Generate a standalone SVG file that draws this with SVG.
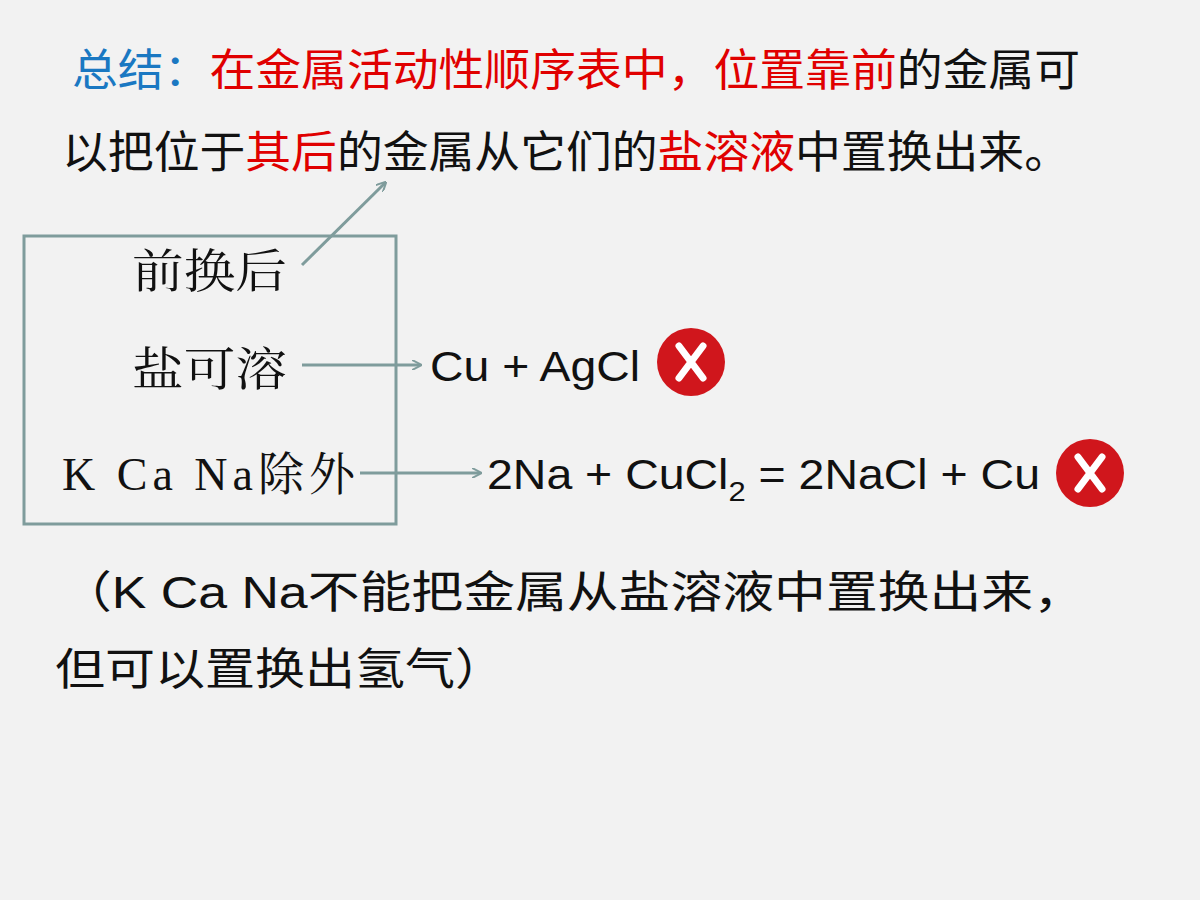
<svg xmlns="http://www.w3.org/2000/svg" width="1200" height="900" viewBox="0 0 1200 900">
<defs>
<style>
.cn{font-family:"Noto Sans CJK SC","Noto Sans",sans-serif;font-size:44px;fill:#111}
.r{fill:#e00000}
.b{fill:#1a78c2}
.sf{font-family:"Liberation Serif","Noto Serif CJK SC","Noto Sans CJK SC",serif;font-size:46px;fill:#111}
.eq{font-family:"Liberation Sans","Noto Sans CJK SC",sans-serif;font-size:42px;fill:#111}
.ln{stroke:#7f9c9c;stroke-width:3;fill:none}
.xc{fill:#d0161c}
.xm{stroke:#fff;stroke-width:7;stroke-linecap:round}
</style>
<marker id="ah" markerWidth="10" markerHeight="10" refX="8" refY="5" orient="auto" markerUnits="userSpaceOnUse" viewBox="0 0 10 10">
<path d="M0,0 L10,5 L0,10" fill="none" stroke="#7f9c9c" stroke-width="2"/>
</marker>
</defs>
<rect width="1200" height="900" fill="#f2f2f2"/>
<g id="title">
<text class="cn" x="72" y="86" textLength="1008" lengthAdjust="spacingAndGlyphs"><tspan class="b">总结：</tspan><tspan class="r">在金属活动性顺序表中，位置靠前</tspan>的金属可</text>
<text class="cn" x="62" y="168" textLength="1008" lengthAdjust="spacingAndGlyphs">以把位于<tspan class="r">其后</tspan>的金属从它们的<tspan class="r">盐溶液</tspan>中置换出来。</text>
</g>
<g id="box">
<rect class="ln" x="24" y="236" width="372" height="288"/>
<text class="sf" x="132" y="287" textLength="155" lengthAdjust="spacingAndGlyphs">前换后</text>
<text class="sf" x="132" y="385" textLength="155" lengthAdjust="spacingAndGlyphs">盐可溶</text>
<text class="sf" x="62" y="490" textLength="293" lengthAdjust="spacing">K Ca Na除外</text>
</g>
<g id="connectors">
<line class="ln" x1="302" y1="265" x2="385" y2="183" marker-end="url(#ah)"/>
<line class="ln" x1="302" y1="365" x2="420" y2="365" marker-end="url(#ah)"/>
<line class="ln" x1="360" y1="473" x2="480" y2="473" marker-end="url(#ah)"/>
</g>
<g id="eq1">
<text class="eq" x="430" y="381" textLength="210" lengthAdjust="spacingAndGlyphs">Cu + AgCl</text>
<circle class="xc" cx="691" cy="362" r="34"/>
<path class="xm" d="M679,346 L703,378 M703,346 L679,378"/>
</g>
<g id="eq2">
<text class="eq" x="487" y="489" textLength="553" lengthAdjust="spacingAndGlyphs">2Na + CuCl<tspan font-size="28" dy="12">2</tspan><tspan dy="-12"> = 2NaCl + Cu</tspan></text>
<circle class="xc" cx="1090" cy="473" r="34"/>
<path class="xm" d="M1078,457 L1102,489 M1102,457 L1078,489"/>
</g>
<g id="note">
<text class="cn" x="60" y="608" textLength="1025" lengthAdjust="spacingAndGlyphs">（<tspan font-family="Liberation Sans,sans-serif">K Ca Na</tspan>不能把金属从盐溶液中置换出来，</text>
<text class="cn" x="55" y="685" textLength="450" lengthAdjust="spacingAndGlyphs">但可以置换出氢气）</text>
</g>
</svg>
